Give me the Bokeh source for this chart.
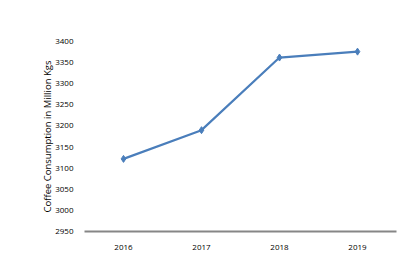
from bokeh.plotting import figure
from bokeh.models import FactorRange, Range1d, FixedTicker
from bokeh.embed import file_html
from bokeh.resources import INLINE

years = ["2016", "2017", "2018", "2019"]
consumption = [3122, 3190, 3362, 3376]
y_ticks = [2950, 3000, 3050, 3100, 3150, 3200, 3250, 3300, 3350, 3400]

p = figure(width=419, height=272, x_range=FactorRange(*years),
           y_range=Range1d(2950, 3400), output_backend="svg",
           toolbar_location=None, min_border_left=84, min_border_right=23,
           min_border_top=41, min_border_bottom=41)
p.outline_line_color = None
p.xgrid.grid_line_color = None
p.ygrid.grid_line_color = None

p.line(years, consumption, line_color="#4a7ebb", line_width=2.2)
p.scatter(years, consumption, marker="diamond", size=7,
          fill_color="#4a7ebb", line_color="#4a7ebb")

font = "Open Sans"
p.yaxis.ticker = FixedTicker(ticks=y_ticks)
p.yaxis.axis_line_color = None
p.yaxis.major_tick_line_color = None
p.yaxis.minor_tick_line_color = None
p.yaxis.major_label_text_font = font
p.yaxis.major_label_text_font_size = "8px"
p.yaxis.major_label_text_color = "black"
p.yaxis.major_label_standoff = 5
p.yaxis.axis_label = "Coffee Consumption in Million Kgs"
p.yaxis.axis_label_text_font = font
p.yaxis.axis_label_text_font_size = "9.5px"
p.yaxis.axis_label_text_font_style = "normal"
p.yaxis.axis_label_text_color = "black"
p.yaxis.axis_label_standoff = -2

p.xaxis.axis_line_color = "#868686"
p.xaxis.axis_line_width = 2
p.xaxis.major_tick_line_color = None
p.xaxis.minor_tick_line_color = None
p.xaxis.major_label_text_font = font
p.xaxis.major_label_text_font_size = "8px"
p.xaxis.major_label_text_color = "black"
p.xaxis.major_label_standoff = 7

open("out.html", "w").write(file_html(p, INLINE))
